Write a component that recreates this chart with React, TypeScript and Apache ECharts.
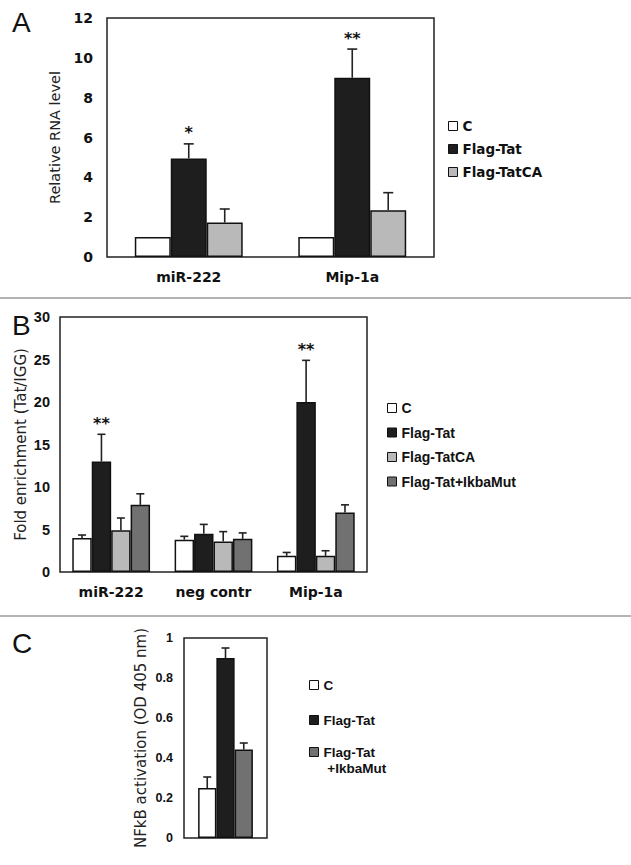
import React, { useEffect, useRef } from "react";
import * as echarts from "echarts";

// ---------- Panel A ----------
const categoriesA = ["miR-222", "Mip-1a"];
const namesA = ["C", "Flag-Tat", "Flag-TatCA"];
const valuesA_C = [1, 1];
const valuesA_Tat = [4.95, 9.0];
const valuesA_TatCA = [1.73, 2.35];
const errA_C = [0, 0];
const errA_Tat = [0.73, 1.44];
const errA_TatCA = [0.68, 0.88];
const sigA_Tat = ["*", "**"];
const yMaxA = 12;
const yStepA = 2;

// ---------- Panel B ----------
const categoriesB = ["miR-222", "neg contr", "Mip-1a"];
const namesB = ["C", "Flag-Tat", "Flag-TatCA", "Flag-Tat+IkbaMut"];
const valuesB_C = [4.0, 3.8, 1.9];
const valuesB_Tat = [13.0, 4.5, 20.0];
const valuesB_TatCA = [4.9, 3.6, 1.9];
const valuesB_Ikba = [7.9, 3.9, 7.0];
const errB_C = [0.35, 0.4, 0.4];
const errB_Tat = [3.2, 1.1, 4.9];
const errB_TatCA = [1.45, 1.15, 0.6];
const errB_Ikba = [1.3, 0.7, 0.9];
const sigB_Tat = ["**", "", "**"];
const yMaxB = 30;
const yStepB = 5;

// ---------- Panel C ----------
const categoriesC = [""];
const namesC1 = ["C", "Flag-Tat"];
const namesC2 = ["Flag-Tat+IkbaMut"];
const valuesC_C = [0.25];
const valuesC_Tat = [0.9];
const valuesC_Ikba = [0.442];
const errC_C = [0.055];
const errC_Tat = [0.05];
const errC_Ikba = [0.033];
const yMaxC = 1;
const yStepC = 0.2;

const COLORS: Record<string, string> = {
  C: "#ffffff",
  "Flag-Tat": "#1e1e1e",
  "Flag-TatCA": "#b9b9b9",
  "Flag-Tat+IkbaMut": "#717171",
};

const WIDE = '"DejaVu Sans", sans-serif';
const NARROW = '"Liberation Sans", Arial, sans-serif';

function barSeries(name: string, data: number[], idx: number, gap: string) {
  return {
    type: "bar",
    name,
    xAxisIndex: idx,
    yAxisIndex: idx,
    data,
    barGap: "0%",
    barCategoryGap: gap,
    itemStyle: { color: COLORS[name], borderColor: "#111", borderWidth: 1.5 },
    z: 2,
  };
}

function errorSeries(
  idx: number,
  values: number[][],
  errs: number[][],
  sigs: string[][],
  gapRatio: number,
  capHalf: number
) {
  const n = values.length;
  const data: number[][] = [];
  const sigList: string[] = [];
  values.forEach((vals, s) => {
    vals.forEach((v, i) => {
      data.push([i, v, errs[s][i], s]);
      sigList.push((sigs[s] && sigs[s][i]) || "");
    });
  });
  return {
    type: "custom",
    xAxisIndex: idx,
    yAxisIndex: idx,
    data,
    encode: { x: 0, y: 1 },
    z: 5,
    silent: true,
    renderItem: (params: any, api: any) => {
      const cat = api.value(0);
      const v = api.value(1);
      const e = api.value(2);
      const s = api.value(3);
      const band = api.size([1, 0])[0];
      const groupW = band * (1 - gapRatio);
      const bw = groupW / n;
      const p0 = api.coord([cat, v]);
      const x = p0[0] - groupW / 2 + bw * (s + 0.5);
      const y0 = p0[1];
      const y1 = api.coord([cat, v + e])[1];
      const children: any[] = [];
      if (e > 0) {
        children.push({
          type: "line",
          shape: { x1: x, y1: y0, x2: x, y2: y1 },
          style: { stroke: "#222", lineWidth: 1.6 },
        });
        children.push({
          type: "line",
          shape: { x1: x - capHalf, y1: y1, x2: x + capHalf, y2: y1 },
          style: { stroke: "#222", lineWidth: 1.6 },
        });
      }
      const sig = sigList[params.dataIndex];
      if (sig) {
        children.push({
          type: "text",
          style: {
            text: sig,
            x,
            y: y1 - 11,
            align: "center",
            verticalAlign: "middle",
            font: `bold 16px ${WIDE}`,
            fill: "#111",
          },
        });
      }
      return { type: "group", children };
    },
  };
}

function yAxis(
  idx: number,
  max: number,
  step: number,
  name: string,
  nameGap: number,
  nameSize: number,
  margin: number,
  labelFont: string,
  labelSize: number
) {
  return {
    type: "value",
    gridIndex: idx,
    min: 0,
    max,
    interval: step,
    name,
    nameLocation: "middle",
    nameRotate: 90,
    nameGap,
    nameTextStyle: { fontFamily: WIDE, fontSize: nameSize, color: "#222" },
    axisLine: { show: false },
    axisTick: { show: false },
    splitLine: { show: false },
    axisLabel: {
      fontFamily: labelFont,
      fontWeight: "bold",
      fontSize: labelSize,
      color: "#111",
      margin,
    },
  };
}

function xAxis(idx: number, data: string[], showLabel: boolean) {
  return {
    type: "category",
    gridIndex: idx,
    data,
    axisLine: { show: false },
    axisTick: { show: false },
    axisLabel: {
      show: showLabel,
      fontFamily: WIDE,
      fontWeight: "bold",
      fontSize: 14,
      color: "#111",
      margin: 13,
    },
  };
}

function legend(
  data: any[],
  left: number,
  top: number,
  gap: number,
  font: string,
  size: number,
  formatter?: any
) {
  return {
    orient: "vertical",
    left,
    top,
    data,
    icon: "rect",
    itemWidth: 9,
    itemHeight: 9,
    itemGap: gap,
    selectedMode: false,
    itemStyle: { borderColor: "#111", borderWidth: 1 },
    textStyle: { fontFamily: font, fontWeight: "bold", fontSize: size, color: "#111", lineHeight: 16 },
    padding: 0,
    formatter,
  };
}

export default function App() {
  const ref = useRef<HTMLDivElement>(null);
  useEffect(() => {
    if (!ref.current) return;
    const chart = echarts.init(ref.current, undefined, { renderer: "svg" });
    const gridStyle = { show: true, borderColor: "#222", borderWidth: 1.5, backgroundColor: "transparent" };
    const letterFont = '28px "Liberation Sans", sans-serif';
    const option: any = {
      animation: false,
      backgroundColor: "#ffffff",
      grid: [
        { left: 107, top: 18, width: 327, height: 239, ...gridStyle },
        { left: 60, top: 317, width: 307, height: 255, ...gridStyle },
        { left: 184, top: 638, width: 83, height: 200, ...gridStyle },
      ],
      xAxis: [xAxis(0, categoriesA, true), xAxis(1, categoriesB, true), xAxis(2, categoriesC, false)],
      yAxis: [
        yAxis(0, yMaxA, yStepA, "Relative RNA level", 38, 14.5, 14, WIDE, 14),
        yAxis(1, yMaxB, yStepB, "Fold enrichment (Tat/IGG)", 32, 15, 10, NARROW, 14.5),
        yAxis(2, yMaxC, yStepC, "NFkB activation (OD 405 nm)", 36, 15, 11, NARROW, 12.5),
      ],
      legend: [
        legend(namesA, 448, 118, 7, WIDE, 13.5),
        legend(namesB, 387, 400, 8.5, NARROW, 14),
        legend(namesC1, 309, 677, 19, NARROW, 13.5),
        legend(namesC2, 309, 728, 0, NARROW, 13.5, () => " \nFlag-Tat\n +IkbaMut"),
      ],
      graphic: [
        { type: "text", left: 12, top: 8, style: { text: "A", font: letterFont, fill: "#111" } },
        { type: "text", left: 12, top: 311, style: { text: "B", font: letterFont, fill: "#111" } },
        { type: "text", left: 12, top: 629, style: { text: "C", font: letterFont, fill: "#111" } },
        { type: "line", shape: { x1: 0, y1: 298, x2: 631, y2: 298 }, style: { stroke: "#9a9a9a", lineWidth: 1.5 } },
        { type: "line", shape: { x1: 0, y1: 616, x2: 631, y2: 616 }, style: { stroke: "#9a9a9a", lineWidth: 1.5 } },
      ],
      series: [
        barSeries("C", valuesA_C, 0, "34%"),
        barSeries("Flag-Tat", valuesA_Tat, 0, "34%"),
        barSeries("Flag-TatCA", valuesA_TatCA, 0, "34%"),
        errorSeries(0, [valuesA_C, valuesA_Tat, valuesA_TatCA], [errA_C, errA_Tat, errA_TatCA], [[], sigA_Tat, []], 0.34, 5),

        barSeries("C", valuesB_C, 1, "24%"),
        barSeries("Flag-Tat", valuesB_Tat, 1, "24%"),
        barSeries("Flag-TatCA", valuesB_TatCA, 1, "24%"),
        barSeries("Flag-Tat+IkbaMut", valuesB_Ikba, 1, "24%"),
        errorSeries(
          1,
          [valuesB_C, valuesB_Tat, valuesB_TatCA, valuesB_Ikba],
          [errB_C, errB_Tat, errB_TatCA, errB_Ikba],
          [[], sigB_Tat, [], []],
          0.24,
          4
        ),

        barSeries("C", valuesC_C, 2, "34%"),
        barSeries("Flag-Tat", valuesC_Tat, 2, "34%"),
        barSeries("Flag-Tat+IkbaMut", valuesC_Ikba, 2, "34%"),
        errorSeries(2, [valuesC_C, valuesC_Tat, valuesC_Ikba], [errC_C, errC_Tat, errC_Ikba], [[], [], []], 0.34, 4),
      ],
    };
    chart.setOption(option);
    return () => chart.dispose();
  }, []);
  return (
    <div
      ref={ref}
      style={{ position: "absolute", left: 0, top: 0, width: 631, height: 865, background: "#fff" }}
    />
  );
}
